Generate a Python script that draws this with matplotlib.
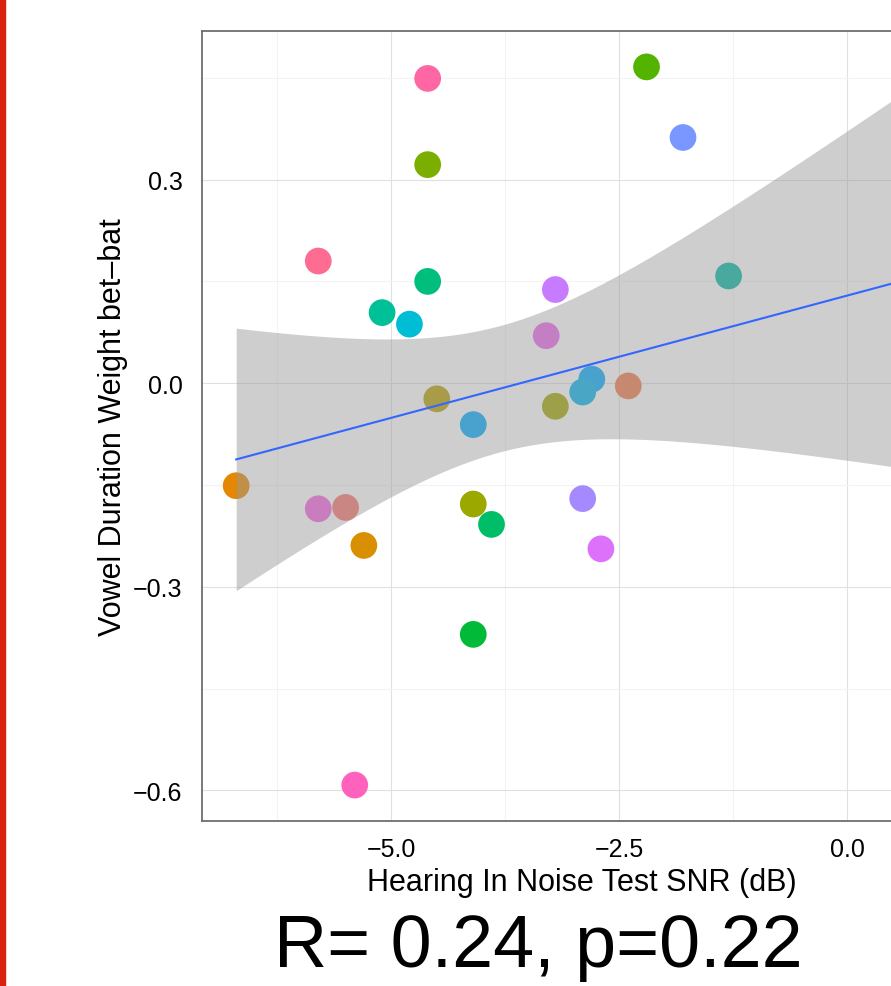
import numpy as np
import matplotlib
matplotlib.use("Agg")
import matplotlib.pyplot as plt
from matplotlib.patches import Rectangle

# Hearing In Noise Test SNR (dB) per listener, last one sits past the cropped right edge
hint_snr = [-4.6, -2.2, -1.8, -4.6, -5.8, -4.6, -1.3, -5.1, -4.8, -3.2,
            -3.3, -4.5, -2.8, -2.9, -2.4, -3.2, -4.1, -6.7, -5.8, -5.5,
            -5.3, -4.1, -3.9, -2.9, -2.7, -4.1, -5.4, 0.8]
# vowel duration weight (bet-bat)
duration_weight = [0.449, 0.466, 0.362, 0.322, 0.180, 0.150, 0.158, 0.104, 0.087, 0.138,
                   0.070, -0.023, 0.006, -0.013, -0.004, -0.034, -0.061, -0.151, -0.185, -0.183,
                   -0.239, -0.178, -0.208, -0.170, -0.244, -0.370, -0.592, -0.070]
subject_colors = ['#FF67A4', '#53B400', '#7997FF', '#7CAE00', '#FF6C91', '#00BF7D', '#00B9A3',
                  '#00C097', '#00BDD6', '#C77CFF', '#ED68ED', '#B79F00', '#00A9FF', '#00B4EF',
                  '#F17C4A', '#A3A500', '#00A9FF', '#E58700', '#F564E3', '#F8766D', '#D89000',
                  '#9AA800', '#00BE67', '#A58AFF', '#DE71F9', '#00BA38', '#FF62BC', '#8F91FF']
stat_label = 'R= 0.24, p=0.22'
T_CRIT = 2.0555  # t(0.975, df=26)


def lm_band(x, y, n_grid=80):
    x = np.asarray(x)
    y = np.asarray(y)
    slope, icpt = np.polyfit(x, y, 1)
    resid = y - (icpt + slope * x)
    s = np.sqrt(np.sum(resid ** 2) / (len(x) - 2))
    sxx = np.sum((x - x.mean()) ** 2)
    xg = np.linspace(x.min(), x.max(), n_grid)
    fit = icpt + slope * xg
    se = s * np.sqrt(1.0 / len(x) + (xg - x.mean()) ** 2 / sxx)
    return xg, fit, fit - T_CRIT * se, fit + T_CRIT * se


def expand(vals, mult=0.05):
    lo, hi = min(vals), max(vals)
    pad = (hi - lo) * mult
    return lo - pad, hi + pad


def main():
    plt.rcParams['font.family'] = ['Liberation Sans', 'DejaVu Sans']
    fig = plt.figure(figsize=(8.91, 9.87), dpi=100)
    fig.patches.append(Rectangle((0, 0), 5 / 891, 1, transform=fig.transFigure,
                                 color='#D9230F', zorder=0))

    ax = fig.add_axes([0.2267, 0.1672, 0.852, 0.8004])
    ax.set_xlim(*expand(hint_snr))
    ax.set_ylim(*expand(duration_weight))

    ax.set_xticks([-5.0, -2.5, 0.0])
    ax.set_xticklabels(['\u22125.0', '\u22122.5', '0.0'])
    ax.set_xticks([-6.25, -3.75, -1.25, 1.25], minor=True)
    ax.set_yticks([-0.6, -0.3, 0.0, 0.3])
    ax.set_yticklabels(['\u22120.6', '\u22120.3', '0.0', '0.3'])
    ax.set_yticks([-0.45, -0.15, 0.15, 0.45], minor=True)
    ax.grid(which='major', color='#E0E0E0', linewidth=0.8)
    ax.grid(which='minor', color='#F3F3F3', linewidth=0.8)
    ax.set_axisbelow(True)
    ax.tick_params(which='both', length=0, labelsize=18, colors='black')
    ax.tick_params(axis='x', pad=11.5)
    ax.tick_params(axis='y', pad=14)
    for sp in ax.spines.values():
        sp.set_color('#6E6E6E')
        sp.set_linewidth(1.3)

    ax.scatter(hint_snr, duration_weight, s=370, c=subject_colors, linewidths=0, zorder=2)

    xg, fit, lo, hi = lm_band(hint_snr, duration_weight)
    ax.fill_between(xg, lo, hi, color='#999999', alpha=0.48, linewidth=0, zorder=3)
    ax.plot(xg, fit, color='#3366FF', linewidth=1.5, zorder=4)

    ax.set_xlabel('Hearing In Noise Test SNR (dB)', fontsize=22, labelpad=4)
    ax.set_ylabel('Vowel Duration Weight bet\u2013bat', fontsize=22)
    ax.yaxis.set_label_coords(-0.098, 0.5)

    fig.text(538 / 891, 20 / 987, stat_label, fontsize=53, ha='center', va='baseline')

    fig.savefig('out.png', dpi=100)


if __name__ == "__main__":
    main()
